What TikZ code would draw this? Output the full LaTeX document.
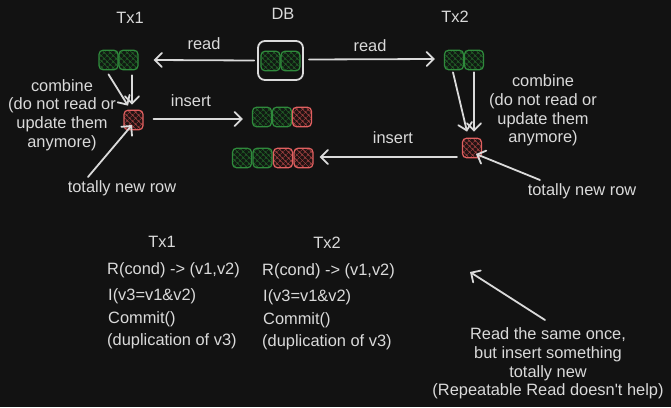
\documentclass[tikz,border=0pt]{standalone}
\usepackage{fontspec}
\setmainfont{Liberation Sans}
\usetikzlibrary{arrows.meta,patterns.meta,calc}
\definecolor{bg}{HTML}{121212}
\definecolor{fg}{HTML}{DADADA}
\definecolor{gborder}{HTML}{2F8A3C}
\definecolor{ghatch}{HTML}{236629}
\definecolor{gfill}{HTML}{111A13}
\definecolor{rborder}{HTML}{E06060}
\definecolor{rhatch}{HTML}{A84444}
\definecolor{rfill}{HTML}{221313}
\tikzset{
  cell/.style={minimum width=19pt, minimum height=19.5pt, inner sep=0pt, rounded corners=4pt, line width=1.2pt},
  gcell/.style={cell, draw=gborder, preaction={fill=gfill}, preaction={pattern={Hatch[angle=45,distance=4pt,line width=0.5pt]}, pattern color=ghatch}},
  rcell/.style={cell, draw=rborder, preaction={fill=rfill}, preaction={pattern={Hatch[angle=45,distance=4pt,line width=0.5pt]}, pattern color=rhatch}},
  txt/.style={text=fg, font=\fontsize{16.4}{18.8}\selectfont, inner sep=0pt},
  arr/.style={draw=fg, line width=1.8pt, line cap=round, line join=round, -{Straight Barb[length=7pt,width=14pt,line cap=round]}},
}
\begin{document}
\begin{tikzpicture}[x=1pt,y=-1pt]
\fill[bg] (0,0) rectangle (671,407);
\useasboundingbox (0,0) rectangle (671,407);

% top labels
\node[txt] (tx1top) at (130,18) {Tx1};
\node[txt] (dbtop) at (283,14) {DB};
\node[txt] (tx2top) at (455,17) {Tx2};

% DB box
\node[draw=fg, line width=1.8pt, rounded corners=7pt, minimum width=45pt, minimum height=39pt, inner sep=0pt] (db) at (280.5,60.5) {};
\node[gcell] (dba) at (270.5,61) {};
\node[gcell] (dbb) at (290.5,61) {};

% Tx1 cells
\node[gcell] (g1a) at (108.5,60) {};
\node[gcell] (g1b) at (128.5,60) {};
\node[rcell] (r1) at (133.5,120) {};

% Tx2 cells
\node[gcell] (g2a) at (454,60) {};
\node[gcell] (g2b) at (474,60) {};
\node[rcell] (r2) at (472,148) {};

% row of 3
\node[gcell] (s1) at (262,117) {};
\node[gcell] (s2) at (282,117) {};
\node[rcell] (s3) at (302,117) {};

% row of 4
\node[gcell] (q1) at (242,158) {};
\node[gcell] (q2) at (262.5,158) {};
\node[rcell] (q3) at (283,158) {};
\node[rcell] (q4) at (303.5,158) {};

% read arrows
\draw[arr] ($(db.west)+(-3,0)$) -- ($(g1b.east)+(15,0)$);
\node[txt] (readl) at (204,44) {read};
\draw[arr] ($(db.east)+(5,-1)$) -- ($(g2a.west)+(-9,-1)$);
\node[txt] (readr) at (370,46) {read};

% combine arrows Tx1
\draw[arr] ($(g1a.south)+(0,4)$) -- ($(r1.north)+(-5.5,-4)$);
\draw[arr] ($(g1b.south)+(3.5,5)$) -- ($(r1.north)+(-1.5,-5)$);
% combine arrows Tx2
\draw[arr] ($(g2a.south)+(-1,2)$) -- ($(r2.north)+(-5,-6)$);
\draw[arr] ($(g2b.south)+(0,2)$) -- ($(r2.north)+(2,-6)$);

% insert arrows
\draw[arr] ($(r1.east)+(10,-1)$) -- ($(s1.west)+(-9,2)$);
\node[txt] (insl) at (191,101) {insert};
\draw[arr] ($(r2.west)+(-5,9)$) -- ($(q4.east)+(6,-1)$);
\node[txt] (insr) at (393,138) {insert};

% combine texts
\node[txt, align=center] (combl) at (62,115) {combine\\(do not read or\\update them\\anymore)};
\node[txt, align=center] (combr) at (543,110.5) {combine\\(do not read or\\update them\\anymore)};

% totally new row
\node[txt] (newl) at (122,188) {totally new row};
\coordinate (newls) at (88,177);
\draw[arr] (newls) -- ($(r1.center)+(-1.5,5)$);
\node[txt] (newr) at (582,191) {totally new row};
\coordinate (newrs) at (540,180);
\draw[arr] (newrs) -- ($(r2.center)+(4,6)$);

% bottom code
\node[txt] (btx1) at (162,242) {Tx1};
\node[txt] (btx2) at (327,243) {Tx2};
\node[txt, anchor=west] (a1) at (107,270) {R(cond) -> (v1,v2)};
\node[txt, anchor=west] (a2) at (108,296) {I(v3=v1\&v2)};
\node[txt, anchor=west] (a3) at (108,319) {Commit()};
\node[txt, anchor=west] (a4) at (107,341) {(duplication of v3)};
\node[txt, anchor=west] (b1) at (262,271) {R(cond) -> (v1,v2)};
\node[txt, anchor=west] (b2) at (263,297) {I(v3=v1\&v2)};
\node[txt, anchor=west] (b3) at (263,320) {Commit()};
\node[txt, anchor=west] (b4) at (262,342) {(duplication of v3)};

% note
\node[txt, align=center] (note) at (548,363.5) {Read the same once,\\but insert something\\totally new\\(Repeatable Read doesn\textquotesingle t help)};
\coordinate (notes) at (545,320);
\coordinate (notee) at (470,272);
\draw[arr] (notes) -- (notee);
\end{tikzpicture}
\end{document}
